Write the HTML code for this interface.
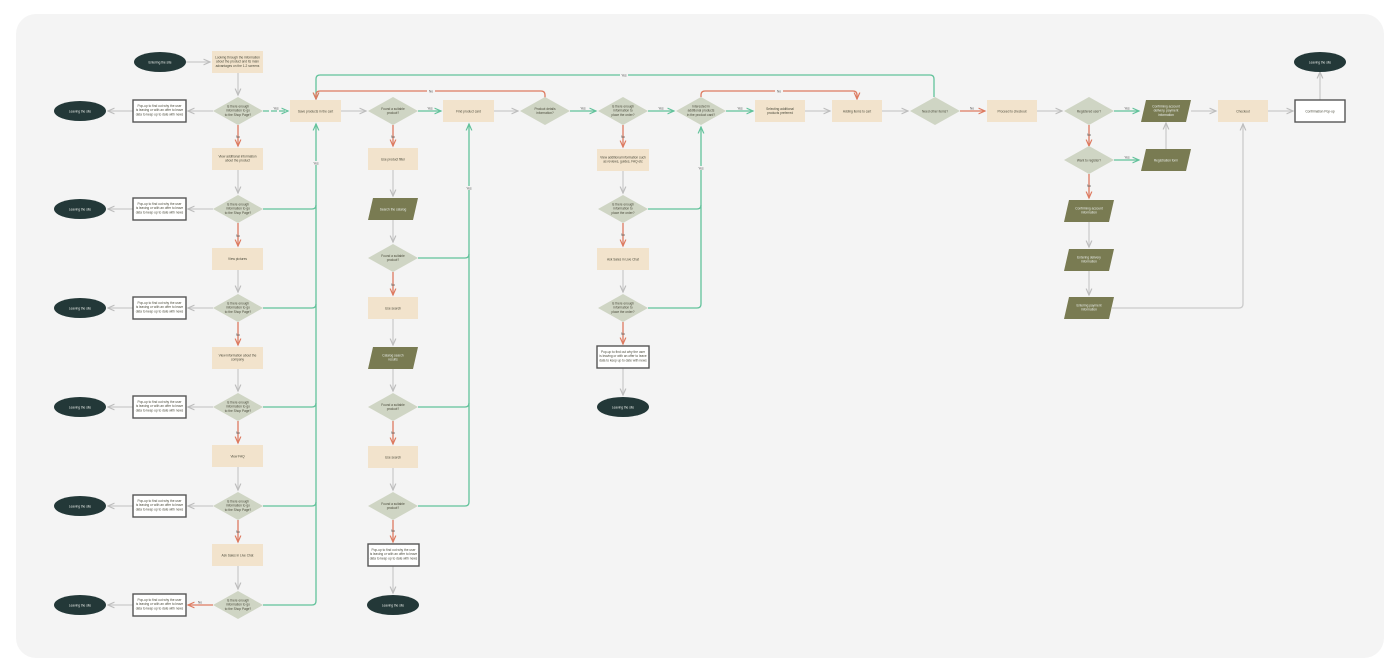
<!DOCTYPE html>
<html><head><meta charset="utf-8"><style>
html,body{margin:0;padding:0;background:#fff;width:1400px;height:672px;overflow:hidden}
svg{display:block}
text{font-family:"Liberation Sans",sans-serif;font-size:3.2px;fill:#4a4a3a;text-anchor:middle}
.w{fill:#e8ece8}
.lb{font-size:3.2px;fill:#555}
.bx{fill:#f2e3cc}
.dm{fill:#cfd5c4}
.pg{fill:#797b52}
.el{fill:#233838}
.pp{fill:#fff;stroke:#555;stroke-width:1.4}
.g{stroke:#62c29b;stroke-width:1.3;fill:none}
.r{stroke:#dd7a60;stroke-width:1.3;fill:none}
.k{stroke:#cbcbcb;stroke-width:1.3;fill:none}
</style></head><body>
<svg width="1400" height="672" viewBox="0 0 1400 672" xmlns="http://www.w3.org/2000/svg">
<defs>
<marker id="ag" markerWidth="6" markerHeight="6" refX="5" refY="3" orient="auto"><path d="M0,0.8 L5,3 L0,5.2" fill="none" stroke="#62c29b" stroke-width="0.9"/></marker>
<marker id="ar" markerWidth="6" markerHeight="6" refX="5" refY="3" orient="auto"><path d="M0,0.8 L5,3 L0,5.2" fill="none" stroke="#dd7a60" stroke-width="0.9"/></marker>
<marker id="ak" markerWidth="6" markerHeight="6" refX="5" refY="3" orient="auto"><path d="M0,0.8 L5,3 L0,5.2" fill="none" stroke="#bdbdbd" stroke-width="0.9"/></marker>
</defs>
<rect x="16" y="14" width="1368" height="644" rx="20" fill="#f4f4f4"/>

<path class="g" d="M934,97 V79 Q934,75 930,75 H320 Q316,75 316,79 V99" marker-end="url(#ag)"/>
<path class="r" d="M545,98 V95 Q545,91 541,91 H320 Q316,91 316,95 V99" marker-end="url(#ar)"/>
<path class="r" d="M701,97 V95 Q701,91 705,91 H853 Q857,91 857,95 V99" marker-end="url(#ar)"/>
<rect x="620" y="73" width="8" height="4" fill="#f4f4f4"/><text x="624" y="76.3" class="lb">Yes</text>
<rect x="427" y="89" width="8" height="4" fill="#f4f4f4"/><text x="431" y="92.3" class="lb">No</text>
<rect x="775" y="89" width="8" height="4" fill="#f4f4f4"/><text x="779" y="92.3" class="lb">No</text>

<path class="k" d="M186,62 H210" marker-end="url(#ak)"/>
<path class="k" d="M238,73 V95" marker-end="url(#ak)"/>
<g>
<path class="k" d="M133,111 H108" marker-end="url(#ak)"/><path class="k" d="M213,111 H188" marker-end="url(#ak)"/>
<path class="k" d="M133,209 H108" marker-end="url(#ak)"/><path class="k" d="M213,209 H188" marker-end="url(#ak)"/>
<path class="k" d="M133,308 H108" marker-end="url(#ak)"/><path class="k" d="M213,308 H188" marker-end="url(#ak)"/>
<path class="k" d="M133,407 H108" marker-end="url(#ak)"/><path class="k" d="M213,407 H188" marker-end="url(#ak)"/>
<path class="k" d="M133,506 H108" marker-end="url(#ak)"/><path class="k" d="M213,506 H188" marker-end="url(#ak)"/>
<path class="k" d="M133,605 H108" marker-end="url(#ak)"/><path class="r" d="M213,605 H188" marker-end="url(#ar)"/>
<text x="200" y="603.5" class="lb">No</text>
</g>
<path class="r" d="M238,125 V146" marker-end="url(#ar)"/><text x="238" y="138" class="lb">No</text>
<path class="k" d="M238,170 V193" marker-end="url(#ak)"/>
<path class="r" d="M238,223 V246" marker-end="url(#ar)"/><text x="238" y="237" class="lb">No</text>
<path class="k" d="M238,270 V292" marker-end="url(#ak)"/>
<path class="r" d="M238,322 V345" marker-end="url(#ar)"/><text x="238" y="336" class="lb">No</text>
<path class="k" d="M238,369 V391" marker-end="url(#ak)"/>
<path class="r" d="M238,421 V443" marker-end="url(#ar)"/><text x="238" y="434" class="lb">No</text>
<path class="k" d="M238,467 V490" marker-end="url(#ak)"/>
<path class="r" d="M238,520 V542" marker-end="url(#ar)"/><text x="238" y="533" class="lb">No</text>
<path class="k" d="M238,566 V589" marker-end="url(#ak)"/>
<path class="g" d="M263,209 H312 Q316,209 316,205"/>
<path class="g" d="M263,308 H312 Q316,308 316,304"/>
<path class="g" d="M263,407 H312 Q316,407 316,403"/>
<path class="g" d="M263,506 H312 Q316,506 316,502"/>
<path class="g" d="M263,605 H312 Q316,605 316,601 V124" marker-end="url(#ag)"/>
<rect x="312" y="161" width="8" height="4" fill="#f4f4f4"/><text x="316" y="164.3" class="lb">Yes</text>

<path class="g" d="M263,111 H288" stroke-dasharray="6 2" marker-end="url(#ag)"/><text x="276" y="109.5" class="lb">Yes</text>
<path class="k" d="M341,111 H366" marker-end="url(#ak)"/>
<path class="g" d="M418,111 H441" marker-end="url(#ag)"/><text x="430" y="109.5" class="lb">Yes</text>
<path class="k" d="M494,111 H518" marker-end="url(#ak)"/>
<path class="g" d="M570,111 H596" marker-end="url(#ag)"/><text x="583" y="109.5" class="lb">Yes</text>
<path class="g" d="M648,111 H674" marker-end="url(#ag)"/><text x="661" y="109.5" class="lb">Yes</text>
<path class="g" d="M726,111 H753" marker-end="url(#ag)"/><text x="740" y="109.5" class="lb">Yes</text>
<path class="k" d="M805,111 H830" marker-end="url(#ak)"/>
<path class="k" d="M882,111 H908" marker-end="url(#ak)"/>
<path class="r" d="M960,111 H985" marker-end="url(#ar)"/><text x="972" y="109.5" class="lb">No</text>
<path class="k" d="M1037,111 H1062" marker-end="url(#ak)"/>
<path class="g" d="M1114,111 H1139" marker-end="url(#ag)"/><text x="1127" y="109.5" class="lb">Yes</text>
<path class="k" d="M1191,111 H1216" marker-end="url(#ak)"/>
<path class="k" d="M1268,111 H1293" marker-end="url(#ak)"/>
<path class="k" d="M1320,100 V72" marker-end="url(#ak)"/>

<path class="r" d="M393,125 V146" marker-end="url(#ar)"/><text x="393" y="138" class="lb">No</text>
<path class="k" d="M393,170 V196" marker-end="url(#ak)"/>
<path class="k" d="M393,220 V242" marker-end="url(#ak)"/>
<path class="r" d="M393,272 V295" marker-end="url(#ar)"/><text x="393" y="286" class="lb">No</text>
<path class="k" d="M393,319 V345" marker-end="url(#ak)"/>
<path class="k" d="M393,369 V391" marker-end="url(#ak)"/>
<path class="r" d="M393,421 V444" marker-end="url(#ar)"/><text x="393" y="434" class="lb">No</text>
<path class="k" d="M393,468 V490" marker-end="url(#ak)"/>
<path class="r" d="M393,520 V542" marker-end="url(#ar)"/><text x="393" y="532" class="lb">No</text>
<path class="k" d="M393,566 V593" marker-end="url(#ak)"/>
<path class="g" d="M418,258 H465 Q469,258 469,254"/>
<path class="g" d="M418,407 H465 Q469,407 469,403"/>
<path class="g" d="M418,506 H465 Q469,506 469,502 V124" marker-end="url(#ag)"/>
<rect x="465" y="186" width="8" height="4" fill="#f4f4f4"/><text x="469" y="189.3" class="lb">Yes</text>

<path class="r" d="M623,125 V147" marker-end="url(#ar)"/><text x="623" y="138" class="lb">No</text>
<path class="k" d="M623,171 V193" marker-end="url(#ak)"/>
<path class="r" d="M623,223 V246" marker-end="url(#ar)"/><text x="623" y="236" class="lb">No</text>
<path class="k" d="M623,270 V292" marker-end="url(#ak)"/>
<path class="r" d="M623,322 V344" marker-end="url(#ar)"/><text x="623" y="335" class="lb">No</text>
<path class="k" d="M623,368 V395" marker-end="url(#ak)"/>
<path class="g" d="M648,209 H697 Q701,209 701,205"/>
<path class="g" d="M648,308 H697 Q701,308 701,304 V127" marker-end="url(#ag)"/>
<rect x="697" y="166" width="8" height="4" fill="#f4f4f4"/><text x="701" y="169.3" class="lb">Yes</text>

<path class="r" d="M1089,125 V146" marker-end="url(#ar)"/><text x="1089" y="136" class="lb">No</text>
<path class="g" d="M1114,160 H1139" marker-end="url(#ag)"/><text x="1127" y="158.5" class="lb">Yes</text>
<path class="k" d="M1166,149 V123" marker-end="url(#ak)"/>
<path class="r" d="M1089,174 V198" marker-end="url(#ar)"/><text x="1089" y="187" class="lb">No</text>
<path class="k" d="M1089,222 V247" marker-end="url(#ak)"/>
<path class="k" d="M1089,271 V295" marker-end="url(#ak)"/>
<path class="k" d="M1112,308 H1239 Q1243,308 1243,304 V124" marker-end="url(#ak)"/>

<ellipse class="el" cx="160" cy="62" rx="26" ry="10"/><text x="160" y="63.3" class="w">Entering the site</text>
<rect class="bx" x="212" y="51" width="51" height="22"/><text x="237.5" y="58.5">Looking through the information<tspan x="237.5" dy="4.2">about the product and its main</tspan><tspan x="237.5" dy="4.2">advantages on the 1-2 screens</tspan></text>

<g id="L1">
<ellipse class="el" cx="80" cy="111" rx="26" ry="10"/><text x="80" y="112.3" class="w">Leaving the site</text>
<rect class="pp" x="133" y="100" width="53" height="22"/><text x="159.5" y="107">Pop-up to find out why the user<tspan x="159.5" dy="4.2">is leaving or with an offer to leave</tspan><tspan x="159.5" dy="4.2">data to keep up to date with news</tspan></text>
<polygon class="dm" points="213,111 238,97 263,111 238,125"/><text x="238" y="107.5">Is there enough<tspan x="238" dy="4.2">information to go</tspan><tspan x="238" dy="4.2">to the Shop Page?</tspan></text>
</g>
<use href="#L1" y="98"/><use href="#L1" y="197"/><use href="#L1" y="296"/><use href="#L1" y="395"/><use href="#L1" y="494"/>

<rect class="bx" x="212" y="148" width="51" height="22"/><text x="237.5" y="157.5">View additional information<tspan x="237.5" dy="4.2">about the product</tspan></text>
<rect class="bx" x="212" y="248" width="51" height="22"/><text x="237.5" y="260">View pictures</text>
<rect class="bx" x="212" y="347" width="51" height="22"/><text x="237.5" y="356.5">View information about the<tspan x="237.5" dy="4.2">company</tspan></text>
<rect class="bx" x="212" y="445" width="51" height="22"/><text x="237.5" y="457.5">View FAQ</text>
<rect class="bx" x="212" y="544" width="51" height="22"/><text x="237.5" y="556.5">Ask Sales in Live Chat</text>

<rect class="bx" x="290" y="100" width="51" height="22"/><text x="315.5" y="112.3">Save products in the cart</text>
<polygon class="dm" points="368,111 393,97 418,111 393,125"/><text x="393" y="110">Found a suitable<tspan x="393" dy="4.2">product?</tspan></text>
<rect class="bx" x="443" y="100" width="51" height="22"/><text x="468.5" y="112.3">Find product card</text>
<polygon class="dm" points="520,111 545,97 570,111 545,125"/><text x="545" y="110">Product details<tspan x="545" dy="4.2">information?</tspan></text>
<polygon class="dm" points="598,111 623,97 648,111 623,125"/><text x="623" y="107.5">Is there enough<tspan x="623" dy="4.2">information to</tspan><tspan x="623" dy="4.2">place the order?</tspan></text>
<polygon class="dm" points="676,111 701,97 726,111 701,125"/><text x="701" y="107.5">Interested in<tspan x="701" dy="4.2">additional products</tspan><tspan x="701" dy="4.2">in the product card?</tspan></text>
<rect class="bx" x="755" y="100" width="50" height="22"/><text x="780" y="110">Selecting additional<tspan x="780" dy="4.2">products preferred</tspan></text>
<rect class="bx" x="832" y="100" width="50" height="22"/><text x="857" y="112.3">Adding items to cart</text>
<polygon class="dm" points="910,111 935,97 960,111 935,125"/><text x="935" y="112.3">Need other items?</text>
<rect class="bx" x="987" y="100" width="50" height="22"/><text x="1012" y="112.3">Proceed to checkout</text>
<polygon class="dm" points="1064,111 1089,97 1114,111 1089,125"/><text x="1089" y="112.3">Registered user?</text>
<polygon class="pg" points="1146,100 1191,100 1186,122 1141,122"/><text x="1166" y="107.5" class="w">Confirming account<tspan x="1166" dy="4.2">delivery, payment</tspan><tspan x="1166" dy="4.2">information</tspan></text>
<rect class="bx" x="1218" y="100" width="50" height="22"/><text x="1243" y="112.3">Checkout</text>
<rect class="pp" x="1295" y="100" width="50" height="22"/><text x="1320" y="112.3">Confirmation Pop-up</text>
<ellipse class="el" cx="1320" cy="62" rx="26" ry="10"/><text x="1320" y="63.3" class="w">Leaving the site</text>

<polygon class="dm" points="1064,160 1089,146 1114,160 1089,174"/><text x="1089" y="161.3">Want to register?</text>
<polygon class="pg" points="1146,149 1191,149 1186,171 1141,171"/><text x="1166" y="161.3" class="w">Registration form</text>
<polygon class="pg" points="1069,200 1114,200 1109,222 1064,222"/><text x="1089" y="209.5" class="w">Confirming account<tspan x="1089" dy="4.2">information</tspan></text>
<polygon class="pg" points="1069,249 1114,249 1109,271 1064,271"/><text x="1089" y="258.5" class="w">Entering delivery<tspan x="1089" dy="4.2">information</tspan></text>
<polygon class="pg" points="1069,297 1114,297 1109,319 1064,319"/><text x="1089" y="306.5" class="w">Entering payment<tspan x="1089" dy="4.2">information</tspan></text>

<rect class="bx" x="368" y="148" width="50" height="22"/><text x="393" y="160.3">Use product filter</text>
<polygon class="pg" points="373,198 418,198 413,220 368,220"/><text x="393" y="210.3" class="w">Search the catalog</text>
<polygon class="dm" points="368,258 393,244 418,258 393,272"/><text x="393" y="257">Found a suitable<tspan x="393" dy="4.2">product?</tspan></text>
<rect class="bx" x="368" y="297" width="50" height="22"/><text x="393" y="309.3">Use search</text>
<polygon class="pg" points="373,347 418,347 413,369 368,369"/><text x="393" y="356.5" class="w">Catalog search<tspan x="393" dy="4.2">results</tspan></text>
<polygon class="dm" points="368,407 393,393 418,407 393,421"/><text x="393" y="406">Found a suitable<tspan x="393" dy="4.2">product?</tspan></text>
<rect class="bx" x="368" y="446" width="50" height="22"/><text x="393" y="458.3">Use search</text>
<polygon class="dm" points="368,506 393,492 418,506 393,520"/><text x="393" y="505">Found a suitable<tspan x="393" dy="4.2">product?</tspan></text>
<rect class="pp" x="368" y="544" width="51" height="22"/><text x="393.5" y="551">Pop-up to find out why the user<tspan x="393.5" dy="4.2">is leaving or with an offer to leave</tspan><tspan x="393.5" dy="4.2">data to keep up to date with news</tspan></text>
<ellipse class="el" cx="393" cy="605" rx="26" ry="10"/><text x="393" y="606.3" class="w">Leaving the site</text>

<rect class="bx" x="597" y="149" width="52" height="22"/><text x="623" y="158.5">View additional information such<tspan x="623" dy="4.2">as reviews, guides, FAQ etc</tspan></text>
<polygon class="dm" points="598,209 623,195 648,209 623,223"/><text x="623" y="205.5">Is there enough<tspan x="623" dy="4.2">information to</tspan><tspan x="623" dy="4.2">place the order?</tspan></text>
<rect class="bx" x="597" y="248" width="52" height="22"/><text x="623" y="260.3">Ask Sales in Live Chat</text>
<polygon class="dm" points="598,308 623,294 648,308 623,322"/><text x="623" y="304.5">Is there enough<tspan x="623" dy="4.2">information to</tspan><tspan x="623" dy="4.2">place the order?</tspan></text>
<rect class="pp" x="597" y="346" width="52" height="22"/><text x="623" y="353">Pop-up to find out why the user<tspan x="623" dy="4.2">is leaving or with an offer to leave</tspan><tspan x="623" dy="4.2">data to keep up to date with news</tspan></text>
<ellipse class="el" cx="623" cy="407" rx="26" ry="10"/><text x="623" y="408.3" class="w">Leaving the site</text>
</svg>
</body></html>
